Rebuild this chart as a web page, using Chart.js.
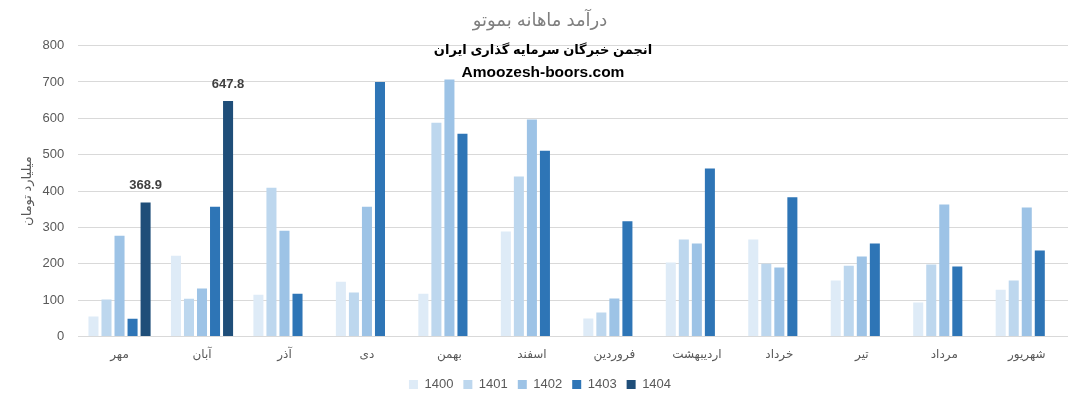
<!DOCTYPE html>
<html>
<head>
<meta charset="utf-8">
<script src="https://cdn.jsdelivr.net/npm/chart.js@4"></script>
<style>
  html, body { margin: 0; padding: 0; background: #fff; }
  #wrap { width: 1072px; height: 408px; }
</style>
</head>
<body>
<div id="wrap"><canvas id="chart" width="1072" height="408"></canvas></div>
<script>
// Months (Persian calendar), Mehr to Shahrivar
const months = ['مهر', 'آبان', 'آذر', 'دی', 'بهمن', 'اسفند', 'فروردین', 'اردیبهشت', 'خرداد', 'تیر', 'مرداد', 'شهریور'];

// Monthly revenue, billion toman, by year
const y1400 = [55, 222, 115, 151, 118, 289, 50, 204, 267, 154, 94, 129];
const y1401 = [102, 104, 409, 121, 588, 440, 66, 267, 200, 195, 198, 154];
const y1402 = [277, 132, 291, 357, 707, 597, 105, 256, 190, 220, 363, 355];
const y1403 = [49, 357, 118, 700, 558, 511, 317, 462, 383, 256, 193, 237];
const y1404 = [368.9, 647.8, null, null, null, null, null, null, null, null, null, null];

const years = ['1400', '1401', '1402', '1403', '1404'];
const yearColors = ['#deebf7', '#bdd7ee', '#9dc3e6', '#2e75b6', '#1f4e79'];
const yTicks = [0, 100, 200, 300, 400, 500, 600, 700, 800];

const chartTitle = 'درآمد ماهانه بموتو';
const overlayLines = ['انجمن خبرگان سرمایه گذاری ایران', 'Amoozesh-boors.com'];
const yTitle = 'میلیارد تومان';

const FONT = "'Liberation Sans', 'DejaVu Sans', sans-serif";

// Labels on top of the 1404 bars + watermark text
const extrasPlugin = {
  id: 'extras',
  afterDatasetsDraw(chart) {
    const ctx = chart.ctx;
    const meta = chart.getDatasetMeta(4);
    ctx.save();
    ctx.font = 'bold 13px ' + FONT;
    ctx.fillStyle = '#404040';
    ctx.textAlign = 'center';
    ctx.textBaseline = 'bottom';
    meta.data.forEach((bar, i) => {
      const v = y1404[i];
      if (v === null) return;
      ctx.fillText(v.toFixed(1), bar.x, bar.y - 10);
    });

    ctx.fillStyle = '#000';
    ctx.textBaseline = 'middle';
    ctx.font = 'bold 13px ' + FONT;
    ctx.fillText(overlayLines[0], 543, 50);
    ctx.font = 'bold 15.5px ' + FONT;
    ctx.fillText(overlayLines[1], 543, 73);
    ctx.restore();
  }
};

const datasets = [y1400, y1401, y1402, y1403, y1404].map((vals, i) => ({
  label: years[i],
  data: vals,
  backgroundColor: yearColors[i],
  borderWidth: 0,
  categoryPercentage: 0.79,
  barPercentage: 0.77
}));

new Chart(document.getElementById('chart').getContext('2d'), {
  type: 'bar',
  data: { labels: months, datasets: datasets },
  plugins: [extrasPlugin],
  options: {
    responsive: false,
    animation: false,
    layout: { padding: { left: 12, right: 4, top: 0, bottom: 7 } },
    scales: {
      x: {
        grid: { display: false },
        border: { display: false },
        ticks: { color: '#595959', font: { family: FONT, size: 12 }, padding: 3 },
        afterFit(axis) { axis.height += 3; }
      },
      y: {
        min: 0,
        max: 800,
        afterBuildTicks(axis) { axis.ticks = yTicks.map(v => ({ value: v })); },
        afterFit(axis) { axis.width -= 7; },
        grid: { color: '#d9d9d9', lineWidth: 1, drawTicks: false, tickLength: 0 },
        border: { display: false },
        ticks: { color: '#595959', font: { family: FONT, size: 13 }, padding: 14 },
        title: {
          display: true,
          text: yTitle,
          color: '#595959',
          font: { family: FONT, size: 13 },
          padding: { top: 8, bottom: 0 }
        }
      }
    },
    plugins: {
      title: {
        display: true,
        text: chartTitle,
        color: '#7f7f7f',
        font: { family: FONT, size: 18, weight: 'normal' },
        padding: { top: 10, bottom: 14 }
      },
      legend: {
        position: 'bottom',
        labels: {
          color: '#595959',
          font: { family: FONT, size: 13 },
          boxWidth: 9,
          boxHeight: 9,
          padding: 10
        }
      },
      tooltip: { enabled: false }
    }
  }
});
</script>
</body>
</html>
